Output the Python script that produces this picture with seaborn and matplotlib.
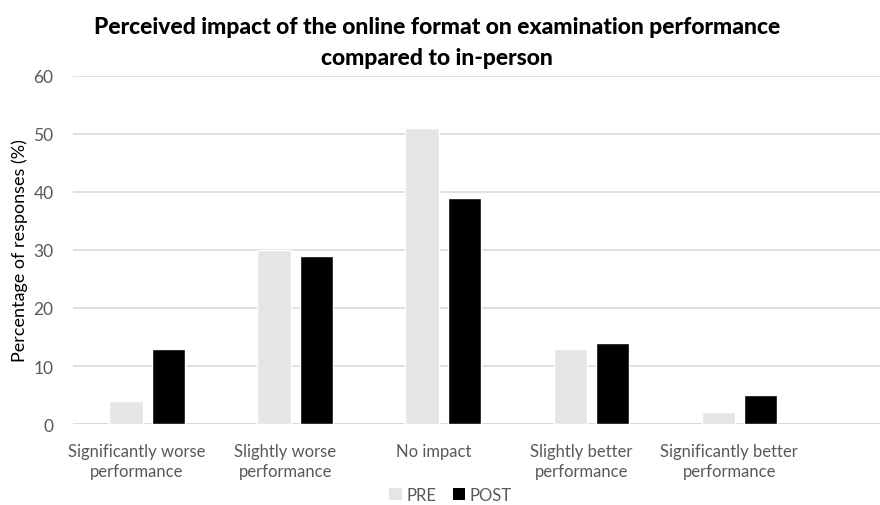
import matplotlib
matplotlib.use("Agg")
import matplotlib.pyplot as plt
import matplotlib.transforms as mtransforms
from matplotlib.patches import Patch
import seaborn as sns
import pandas as pd

categories = ["Significantly worse\nperformance", "Slightly worse\nperformance", "No impact",
              "Slightly better\nperformance", "Significantly better\nperformance"]
pre_values = [4, 30, 51, 13, 2]
post_values = [13, 29, 39, 14, 5]
series_names = ["PRE", "POST"]
y_ticks = [0, 10, 20, 30, 40, 50, 60]
title = "Perceived impact of the online format on examination performance\ncompared to in-person"
y_label = "Percentage of responses (%)"

df = pd.DataFrame({
    "category": categories * 2,
    "value": pre_values + post_values,
    "series": [series_names[0]] * len(categories) + [series_names[1]] * len(categories),
})

sns.set_theme(style="white")
plt.rcParams["font.family"] = ["Lato", "DejaVu Sans"]

fig = plt.figure(figsize=(8.8, 5.06), dpi=100)
ax = fig.add_axes([0.083, 0.160, 0.917, 0.688])

sns.barplot(data=df, x="category", y="value", hue="series", order=categories,
            hue_order=series_names, palette={"PRE": "#e5e5e5", "POST": "#000000"},
            width=0.57, gap=0.21, ax=ax, legend=False, saturation=1, errorbar=None)

ax.set_ylim(0, 60)
ax.set_yticks(y_ticks)
ax.set_xlim(-0.5, 4.95)
ax.yaxis.grid(True, color="#d9d9d9", linewidth=1.2)
ax.set_axisbelow(True)
for s in ["top", "right", "left", "bottom"]:
    ax.spines[s].set_visible(False)
ax.axhline(0, color="#d9d9d9", linewidth=1.2, zorder=0.5)

ax.tick_params(axis="y", labelsize=12.5, colors="#595959", length=0, pad=14)
ax.tick_params(axis="x", labelsize=12, colors="#595959", length=0, pad=14)
offset = mtransforms.ScaledTranslation(-10 / 100, 0, fig.dpi_scale_trans)
for lbl in ax.get_xticklabels():
    lbl.set_transform(lbl.get_transform() + offset)
    lbl.set_linespacing(1.3)
ax.set_xlabel("")
ax.set_ylabel(y_label, fontsize=13, color="#000000", labelpad=4)

fig.text(0.497, 0.915, title, ha="center", va="center", fontsize=16.5,
         fontweight="black", color="#000000", linespacing=1.6)

handles = [Patch(facecolor="#e5e5e5", edgecolor="none"), Patch(facecolor="#000000", edgecolor="none")]
fig.legend(handles, series_names, loc="center", bbox_to_anchor=(0.512, 0.02), ncol=2,
           frameon=False, fontsize=12, handlelength=0.75, handleheight=0.75,
           handletextpad=0.25, columnspacing=1.0, labelcolor="#595959",
           borderpad=0.1)

fig.savefig("out.png", dpi=100)
